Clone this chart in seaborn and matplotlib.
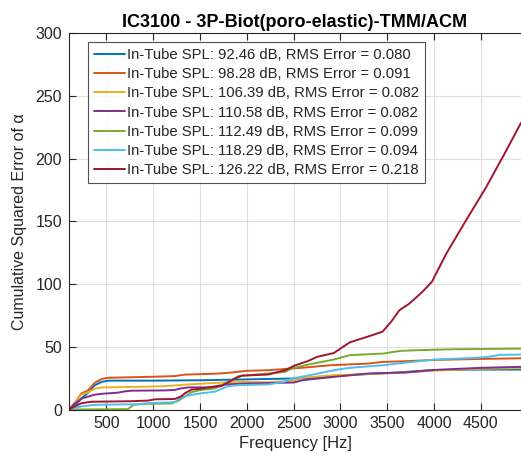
import numpy as np
import pandas as pd
import matplotlib
matplotlib.use("Agg")
import matplotlib.pyplot as plt
import seaborn as sns

# ---------------- data ----------------
title = "IC3100 - 3P-Biot(poro-elastic)-TMM/ACM"
labels = [
    "In-Tube SPL: 92.46 dB, RMS Error = 0.080",
    "In-Tube SPL: 98.28 dB, RMS Error = 0.091",
    "In-Tube SPL: 106.39 dB, RMS Error = 0.082",
    "In-Tube SPL: 110.58 dB, RMS Error = 0.082",
    "In-Tube SPL: 112.49 dB, RMS Error = 0.099",
    "In-Tube SPL: 118.29 dB, RMS Error = 0.094",
    "In-Tube SPL: 126.22 dB, RMS Error = 0.218",
]
colors = ["#0072BD", "#D95319", "#EDB120", "#7E2F8E", "#77AC30", "#4DBEEE", "#A2142F"]

f_blue = [100, 200, 250, 300, 375, 450, 520, 1000, 1500, 2000, 2500, 2800, 3000, 3300, 3500, 3700, 4000, 4500, 4930]
v_blue = [0, 6, 10, 13, 19.3, 22, 23, 23, 23.3, 24, 24.7, 25.5, 27, 28.3, 29, 30, 31.5, 31.8, 31.8]

f_orange = [100, 170, 232, 300, 375, 450, 520, 950, 1230, 1340, 1660, 1800, 2000, 2230, 2480, 2600, 2900, 3300, 3450, 3700, 4000, 4500, 4930]
v_orange = [0, 6, 12.8, 15, 21.3, 24.3, 25.3, 26, 26.6, 27.8, 28.5, 29.2, 30.8, 31.3, 32.7, 33.3, 35.3, 36.6, 37.9, 38.5, 39.5, 40.3, 40.8]

f_yellow = [100, 170, 232, 300, 375, 450, 830, 1124, 1373, 1700, 1900, 2230, 2500, 2600, 2930, 3300, 3700, 4000, 4500, 4930]
v_yellow = [0, 6, 12, 13.5, 16.6, 17.6, 18, 18.6, 20, 21.3, 22, 21.7, 23, 25.3, 27.4, 28.2, 29.5, 31, 32.5, 33]

f_purple = [100, 160, 232, 375, 450, 620, 700, 770, 1124, 1230, 1300, 1373, 1600, 1770, 2000, 2500, 2600, 2930, 3300, 3700, 4000, 4500, 4930]
v_purple = [0, 4.5, 8.7, 11.8, 12.5, 13.4, 14.5, 15, 15.2, 15.6, 16.8, 17.6, 17.6, 20, 20.7, 21.5, 23.4, 26, 28.7, 29.5, 31.5, 33.2, 34]

f_green = [100, 730, 790, 900, 1195, 1270, 1340, 1410, 1500, 1660, 1800, 1910, 2230, 2410, 2480, 2625, 2750, 2930, 3100, 3290, 3460, 3640, 3800, 4200, 4930]
v_green = [0, 0.3, 3.7, 4.5, 4.8, 7, 10.5, 13.8, 15.5, 16.8, 22, 26.6, 28.7, 30, 32.7, 35.3, 37.2, 39.8, 43.3, 44, 44.6, 46.7, 47.2, 48, 48.5]

f_cyan = [100, 232, 375, 520, 830, 945, 1230, 1300, 1373, 1500, 1660, 1800, 1910, 2230, 2400, 2480, 2625, 2750, 2930, 3100, 3460, 3700, 4000, 4400, 4580, 4700, 4930]
v_cyan = [0, 2.5, 3.7, 3.9, 4.2, 5, 5.8, 9.5, 11.1, 12.8, 14.2, 18.7, 19.4, 20, 22, 24.7, 26.6, 28.5, 31.3, 33.2, 35.3, 37.4, 39.8, 41, 41.9, 43.5, 43.8]

f_red = [100, 160, 232, 340, 767, 945, 1017, 1231, 1300, 1340, 1410, 1500, 1590, 1730, 1875, 1950, 2230, 2410, 2520, 2650, 2750, 2930, 3100, 3290, 3450, 3540, 3630, 3735, 3880, 3980, 4130, 4340, 4555, 4770, 4930]
v_red = [0, 2.4, 5, 6.2, 6.6, 7.1, 8.1, 8.4, 10.5, 13, 15.9, 16.5, 17.6, 18.7, 24.7, 27, 27.9, 31.3, 35.3, 38.5, 41.9, 45, 53.5, 58, 62, 69.7, 79, 84.3, 94, 102, 124, 150.4, 176.8, 206, 228.4]

series_f = [f_blue, f_orange, f_yellow, f_purple, f_green, f_cyan, f_red]
series_v = [v_blue, v_orange, v_yellow, v_purple, v_green, v_cyan, v_red]

x_ticks = [500, 1000, 1500, 2000, 2500, 3000, 3500, 4000, 4500]
y_ticks = [0, 50, 100, 150, 200, 250, 300]

# ---------------- build long table ----------------
rows = []
for lab, fs, vs in zip(labels, series_f, series_v):
    for f, v in zip(fs, vs):
        rows.append((lab, f, v))
df = pd.DataFrame(rows, columns=["series", "freq", "err"])

sns.set_style("white")
plt.rcParams["font.family"] = ["Liberation Sans", "DejaVu Sans"]

W, H = 521, 463
fig = plt.figure(figsize=(W / 100, H / 100), dpi=100)
ax_l, ax_r, ax_t, ax_b = 69, 521, 33, 409.5
ax = fig.add_axes([ax_l / W, 1 - ax_b / H, (ax_r - ax_l) / W, (ax_b - ax_t) / H])

sns.lineplot(data=df, x="freq", y="err", hue="series", hue_order=labels,
             palette=colors, linewidth=1.4, sort=False, estimator=None,
             ax=ax, legend=True)

ax.set_xlim(100, 4930)
ax.set_ylim(0, 300)
ax.set_xticks(x_ticks)
ax.set_yticks(y_ticks)
ax.grid(True, color="#dfdfdf", linewidth=0.8)
ax.set_axisbelow(True)

spine_c = "#262626"
for s in ["left", "bottom", "top"]:
    ax.spines[s].set_color(spine_c)
    ax.spines[s].set_linewidth(0.8)
ax.spines["right"].set_visible(False)
ax.tick_params(direction="in", length=5, width=0.8, color=spine_c,
               top=True, bottom=True, left=True, right=False,
               labelsize=11.5, labelcolor="#262626", pad=5)

ax.set_xlabel("Frequency [Hz]", fontsize=12, color="#262626", labelpad=3)
ax.set_ylabel("Cumulative Squared Error of α", fontsize=11.5, color="#262626", labelpad=6)
ax.set_title(title, fontsize=13, fontweight="bold", color="black", pad=4)

leg = ax.legend(loc="upper left", bbox_to_anchor=(0.042, 0.976), borderaxespad=0,
                fontsize=10.7, frameon=True, fancybox=False, edgecolor=spine_c,
                handlelength=2.1, handletextpad=0.15, labelspacing=0.35,
                borderpad=0.4, title=None)
leg.get_frame().set_linewidth(0.8)
for line in leg.get_lines():
    line.set_linewidth(1.4)

fig.savefig("out.png", dpi=100)
